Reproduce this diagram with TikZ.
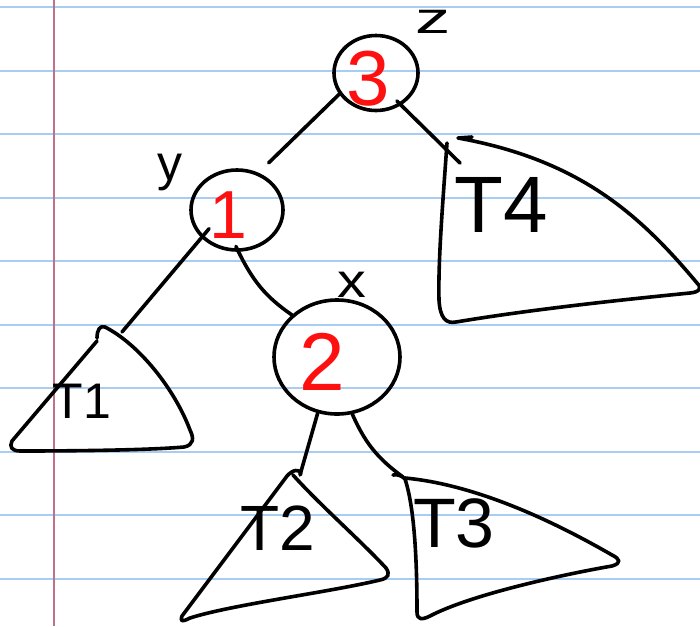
\documentclass[tikz,border=0pt]{standalone}
\usepackage{fontspec}
\setmainfont{Liberation Sans}
\usetikzlibrary{shapes.geometric}
\definecolor{ruleblue}{HTML}{A8CDF3}
\definecolor{marginred}{HTML}{C27089}
\definecolor{inkred}{HTML}{FF1010}
\tikzset{
  paperline/.style={ruleblue, line width=2.6pt},
  marginline/.style={marginred, line width=2.4pt},
  ink/.style={black, line width=3.6pt, line cap=round, line join=round},
  treenode/.style={ink, draw, ellipse, inner sep=0pt},
  keytxt/.style={text=inkred, inner sep=0pt},
  namtxt/.style={text=black, inner sep=0pt},
  subtxt/.style={text=black, inner sep=0pt}
}
\newcommand{\fs}[1]{\fontsize{#1}{#1}\selectfont}
\begin{document}
\begin{tikzpicture}[x=1pt,y=-1pt]
\useasboundingbox (0,0) rectangle (700,626);
\fill[white] (0,0) rectangle (700,626);
% ruled paper
\foreach \yy in {7,71,134,198,261,325,388,452,515,579}
  \draw[paperline] (0,\yy) -- (700,\yy);
\draw[marginline] (54,0) -- (54,626);

% tree nodes
\node[treenode, minimum width=84pt, minimum height=75pt] (z) at (376,73) {};
\node[treenode, minimum width=92pt, minimum height=80pt] (y) at (237,210) {};
\node[treenode, minimum width=126pt, minimum height=114pt] (x) at (337,357) {};

\node[keytxt, font=\fs{78}] (k3) at (368,79) {3};
\node[keytxt, font=\fs{68}] (k1) at (228,215) {1};
\node[keytxt, font=\fs{82}] (k2) at (322,362) {2};

\node[namtxt, font=\fs{44}, xscale=1.6] (lz) at (433,22) {z};
\node[namtxt, font=\fs{50}] (ly) at (170,172) {y};
\node[namtxt, font=\fs{48}, xscale=1.2] (lx) at (352,285) {x};

% subtree anchors
\coordinate (t1in) at (122,332);
\coordinate (t2in) at (300,475);
\coordinate (t3in) at (403,477);
\coordinate (t4in) at (460,163);

% subtrees
\draw[ink] (97,341) -- (12,441) .. controls (9,447) and (12,451) .. (20,451)
  .. controls (80,451) and (150,450) .. (184,447)
  .. controls (194,445) and (194,438) .. (190,430)
  .. controls (175,390) and (140,345) .. (105,327)
  .. controls (100,325) and (97,330) .. (97,338);
\node[subtxt, font=\fs{50}] (T1) at (82,401) {T1};

\draw[ink] (293,475) .. controls (320,505) and (360,540) .. (386,568)
  .. controls (390,574) and (389,578) .. (380,580)
  .. controls (330,592) and (230,605) .. (190,618)
  .. controls (182,622) and (180,622) .. (182,616)
  -- (287,476) .. controls (292,470) and (300,468) .. (301,474);
\node[subtxt, font=\fs{64}] (T2) at (278,528) {T2};

\draw[ink] (393,475) .. controls (398,474) and (402,476) .. (405,479)
  .. controls (412,500) and (417,540) .. (417,612)
  .. controls (417,620) and (422,620) .. (430,616)
  .. controls (470,595) and (560,575) .. (612,566)
  .. controls (622,563) and (620,559) .. (612,555)
  .. controls (560,525) and (480,485) .. (405,478);
\node[subtxt, font=\fs{70}] (T3) at (454,523) {T3};

\draw[ink] (447,143) .. controls (443,200) and (438,260) .. (439,300)
  .. controls (440,318) and (446,324) .. (456,322)
  .. controls (540,308) and (640,298) .. (690,293)
  .. controls (700,292) and (702,288) .. (697,283)
  .. controls (640,215) and (580,160) .. (458,138) -- (472,137);
\node[subtxt, font=\fs{80}] (T4) at (501,205) {T4};

% edges
\draw[ink, shorten >=14pt] (z.210) -- (y.60);
\draw[ink, shorten <=-6pt] (z.-52) -- (t4in);
\draw[ink, shorten <=-12pt] (y.218) -- (t1in);
\draw[ink, shorten <=-6pt] (y.-88) to[bend right=15] (x.137);
\draw[ink] (x.251) -- (t2in);
\draw[ink] (x.-75) to[bend right=15] (t3in);
\end{tikzpicture}
\end{document}
